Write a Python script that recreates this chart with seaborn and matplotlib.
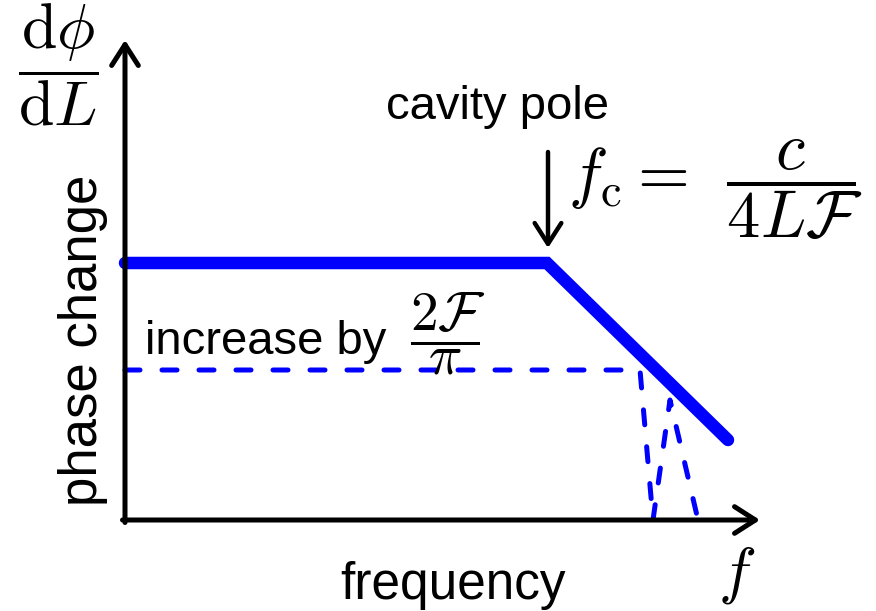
import matplotlib
matplotlib.use("Agg")
import matplotlib.pyplot as plt
import seaborn as sns
import pandas as pd

# Cavity response sketch: phase change per length vs. frequency
response_freq = [0.0, 4.22, 6.03]
response_phase = [2.57, 2.57, 0.80]

# Dashed guide: lower plateau and the drop toward the axis
guide_freq = [0.0, 5.15, 5.28, 5.45, 5.73]
guide_phase = [1.50, 1.50, 0.0, 1.20, 0.0]

pole_freq = 4.23
axis_x_end = 6.35
axis_y_end = 4.80

sns.set_theme(style="white")
plt.rcParams["font.family"] = ["Liberation Sans", "DejaVu Sans"]
plt.rcParams["mathtext.fontset"] = "cm"
plt.rcParams["text.color"] = "black"

fig = plt.figure(figsize=(8.76, 6.11), dpi=100)
ax = fig.add_axes([0, 0, 1, 1])
ax.set_xlim(-1.25, 7.51)
ax.set_ylim(-0.91, 5.20)
ax.axis("off")

response = pd.DataFrame({"f": response_freq, "phase": response_phase})
guide = pd.DataFrame({"f": guide_freq, "phase": guide_phase})

sns.lineplot(data=guide, x="f", y="phase", ax=ax, sort=False, estimator=None,
             color="#0000ff", linewidth=3.6, linestyle=(0, (3.0, 4.4)),
             dash_capstyle="round")
sns.lineplot(data=response, x="f", y="phase", ax=ax, sort=False, estimator=None,
             color="#0000ff", linewidth=9.0, solid_capstyle="round",
             solid_joinstyle="miter")

head = "->,head_length=0.75,head_width=0.48"
ax.annotate("", xy=(axis_x_end, 0), xytext=(-0.025, 0),
            arrowprops=dict(arrowstyle=head, lw=3.6, color="black",
                            mutation_scale=20, shrinkA=0, shrinkB=0))
ax.annotate("", xy=(0, axis_y_end), xytext=(0, -0.025),
            arrowprops=dict(arrowstyle=head, lw=3.6, color="black",
                            mutation_scale=20, shrinkA=0, shrinkB=0))
ax.annotate("", xy=(pole_freq, 2.72), xytext=(pole_freq, 3.68),
            arrowprops=dict(arrowstyle=head, lw=3.2, color="black",
                            mutation_scale=20, shrinkA=0, shrinkB=0))

ax.text(3.72, 4.13, "cavity pole", fontsize=34, ha="center", va="center")
ax.text(4.43, 3.30, r"$f_{\mathrm{c}} = \;\,\dfrac{c}{4L\mathcal{F}}$",
        fontsize=48, ha="left", va="center")
ax.text(0.20, 1.66, "increase by", fontsize=34, ha="left", va="baseline")
ax.text(3.23, 1.86, r"$\dfrac{2\mathcal{F}}{\pi}$",
        fontsize=40, ha="center", va="center")
ax.text(-0.67, 4.55, r"$\dfrac{\mathrm{d}\phi}{\mathrm{d}L}$",
        fontsize=46, ha="center", va="center")
ax.text(6.12, -0.55, r"$f$", fontsize=46, ha="center", va="center")
ax.text(3.28, -0.65, "frequency", fontsize=37, ha="center", va="center")
ax.text(-0.42, 1.80, "phase change", fontsize=38, ha="center", va="center",
        rotation=90)

fig.savefig("out.png", dpi=100)
